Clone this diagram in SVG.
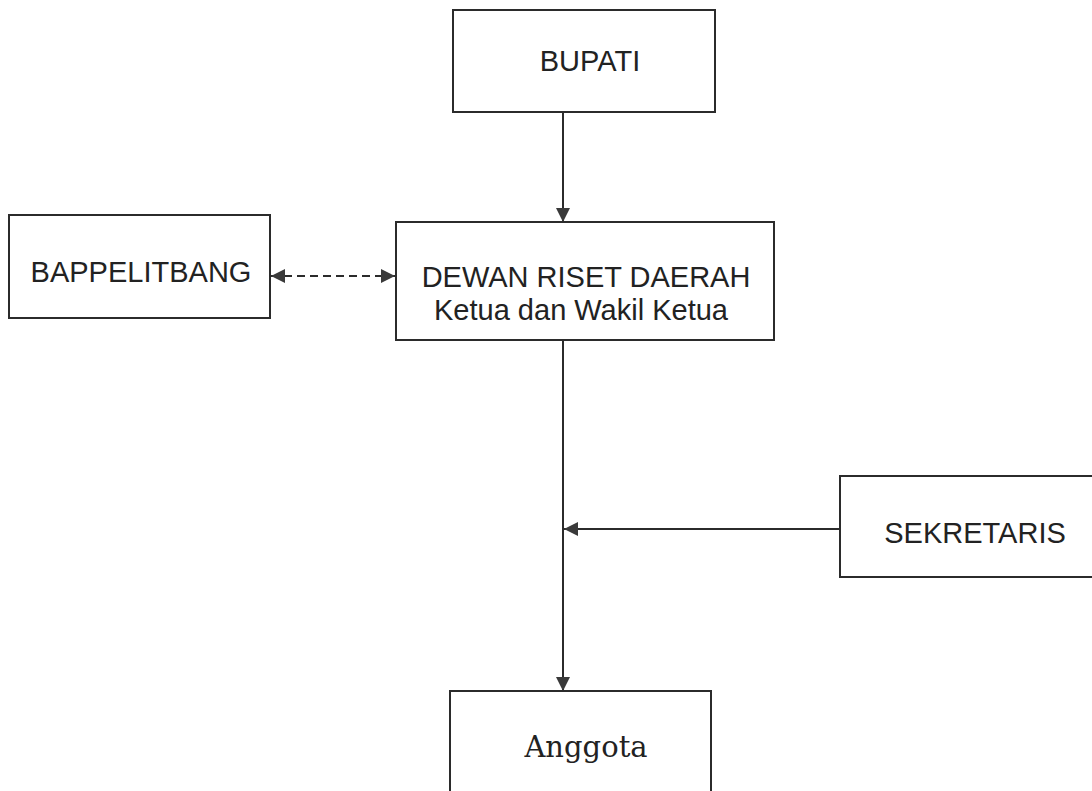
<svg xmlns="http://www.w3.org/2000/svg" width="1092" height="791" viewBox="0 0 1092 791">
  <style>
    .box { fill: #ffffff; stroke: #2b2b2b; stroke-width: 2; }
    .lbl { font-family: "Liberation Sans", Arial, sans-serif; font-size: 29px; fill: #222222; text-anchor: middle; }
    .serif { font-family: "DejaVu Serif", "Liberation Serif", serif; font-size: 29px; fill: #222222; text-anchor: middle; }
    .conn { fill: none; stroke: #2b2b2b; stroke-width: 2; }
    .dash { stroke-dasharray: 8 5; }
  </style>
  <defs>
    <marker id="arrow" viewBox="0 0 14 14" refX="14" refY="7" markerWidth="14" markerHeight="14" markerUnits="userSpaceOnUse" orient="auto-start-reverse">
      <path d="M0,0 L14,7 L0,14 Z" fill="#3a3a3a"/>
    </marker>
  </defs>
  <rect width="1092" height="791" fill="#ffffff"/>

  <g id="connectors">
    <line class="conn" x1="563" y1="112" x2="563" y2="222" marker-end="url(#arrow)"/>
    <line class="conn dash" x1="271" y1="276" x2="395" y2="276" marker-start="url(#arrow)" marker-end="url(#arrow)"/>
    <line class="conn" x1="563" y1="340" x2="563" y2="691" marker-end="url(#arrow)"/>
    <line class="conn" x1="840" y1="529" x2="564" y2="529" marker-end="url(#arrow)"/>
  </g>

  <g id="node-bupati">
    <rect class="box" x="453" y="10" width="262" height="102"/>
    <text class="lbl" x="590" y="71">BUPATI</text>
  </g>

  <g id="node-bappelitbang">
    <rect class="box" x="9" y="215" width="261" height="103"/>
    <text class="lbl" x="141" y="282">BAPPELITBANG</text>
  </g>

  <g id="node-dewan">
    <rect class="box" x="396" y="222" width="378" height="118"/>
    <text class="lbl" x="586" y="287">DEWAN RISET DAERAH</text>
    <text class="lbl" x="581" y="320">Ketua dan Wakil Ketua</text>
  </g>

  <g id="node-sekretaris">
    <rect class="box" x="840" y="476" width="262" height="101"/>
    <text class="lbl" x="975" y="543">SEKRETARIS</text>
  </g>

  <g id="node-anggota">
    <rect class="box" x="450" y="691" width="261" height="110"/>
    <text class="serif" x="586" y="757">Anggota</text>
  </g>
</svg>
